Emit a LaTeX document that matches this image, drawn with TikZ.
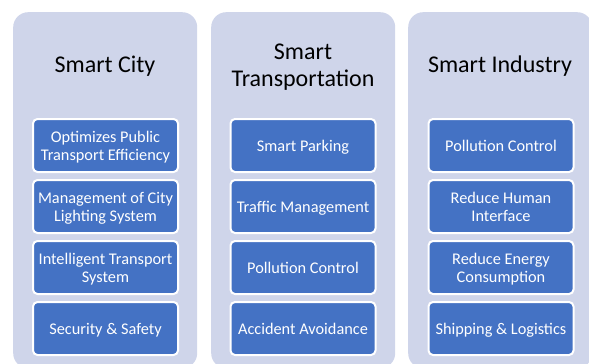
\documentclass[tikz,border=0pt]{standalone}
\usepackage{fontspec}
\setmainfont{Carlito}
\definecolor{panelfill}{HTML}{CFD5EA}
\definecolor{boxfill}{HTML}{4472C4}
\tikzset{
  panel/.style={fill=panelfill, draw=none, rounded corners=15pt, minimum width=184pt, minimum height=356pt, anchor=north west, inner sep=0pt},
  ttl/.style={align=center, font=\fontsize{24}{26.4}\selectfont, text=black},
  item/.style={fill=boxfill, draw=white, line width=2pt, rounded corners=4.5pt, minimum width=145pt, minimum height=53pt, align=center, text=white, font=\fontsize{16.3}{18}\selectfont, inner sep=0pt, text depth=0pt}
}
\begin{document}
\begin{tikzpicture}[x=1pt,y=-1pt]
\useasboundingbox (0,0) rectangle (589,364);
\begin{scope}
\clip (0,0) rectangle (589,364);
\node[panel] (p1) at (13,12) {};
\node[panel] (p2) at (211,12) {};
\node[panel] (p3) at (408,12) {};
\end{scope}
\node[ttl] (t1) at (105,66) {Smart City};
\node[ttl] (t2) at (303,67) {Smart\\Transportation};
\node[ttl] (t3) at (500,66) {Smart Industry};
% column 1
\node[item] (a1) at (105.5,145.5) {Optimizes Public\\Transport Efficiency};
\node[item] (a2) at (105.5,206.5) {Management of City\\Lighting System};
\node[item] (a3) at (105.5,267.5) {Intelligent Transport\\System};
\node[item] (a4) at (105.5,328.5) {Security \& Safety};
% column 2
\node[item] (b1) at (303,145.5) {Smart Parking};
\node[item] (b2) at (303,206.5) {Traffic Management};
\node[item] (b3) at (303,267.5) {Pollution Control};
\node[item] (b4) at (303,328.5) {Accident Avoidance};
% column 3
\node[item] (c1) at (501,145.5) {Pollution Control};
\node[item] (c2) at (501,206.5) {Reduce Human\\Interface};
\node[item] (c3) at (501,267.5) {Reduce Energy\\Consumption};
\node[item] (c4) at (501,328.5) {Shipping \& Logistics};
\end{tikzpicture}
\end{document}
